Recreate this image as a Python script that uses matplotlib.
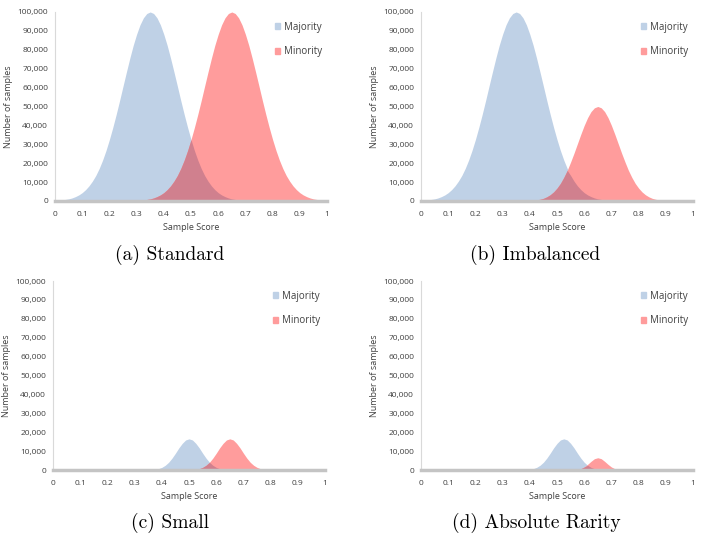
import matplotlib
matplotlib.use("Agg")
import matplotlib.pyplot as plt
import numpy as np
from matplotlib.patches import Patch
from matplotlib.ticker import FuncFormatter, MultipleLocator

# sample score grid for the two wide panels (0 .. 1, step 0.0125)
x_wide = np.linspace(0, 1, 81)
# grid for the two narrow panels (0.3 .. 0.8, step 0.0125)
x_narrow = np.linspace(0.3, 0.8, 41)

# (a) Standard
maj_standard = [200, 300, 500, 800, 1100, 1600, 2300, 3200, 4400, 6000,
                8000, 10500, 13500, 17200, 21600, 26700, 32500, 38900, 45800, 53100,
                60700, 68200, 75500, 82300, 88200, 93200, 96900, 99200, 100000, 99200,
                96900, 93200, 88200, 82300, 75500, 68200, 60700, 53100, 45800, 38900,
                32500, 26700, 21600, 17200, 13500, 10500, 8000, 6000, 4400, 3200,
                2300, 1600, 1100, 800, 500, 300, 200, 100, 100, 0,
                0, 0, 0, 0, 0, 0, 0, 0, 0, 0,
                0, 0, 0, 0, 0, 0, 0, 0, 0, 0, 0]
min_standard = [0, 0, 0, 0, 0, 0, 0, 0, 0, 0,
                0, 0, 0, 0, 0, 0, 0, 0, 0, 0,
                0, 0, 100, 100, 200, 300, 500, 800, 1100, 1600,
                2300, 3200, 4400, 6000, 8000, 10500, 13500, 17200, 21600, 26700,
                32500, 38900, 45800, 53100, 60700, 68200, 75500, 82300, 88200, 93200,
                96900, 99200, 100000, 99200, 96900, 93200, 88200, 82300, 75500, 68200,
                60700, 53100, 45800, 38900, 32500, 26700, 21600, 17200, 13500, 10500,
                8000, 6000, 4400, 3200, 2300, 1600, 1100, 800, 500, 300, 200]

# (b) Imbalanced
maj_imbalanced = [200, 300, 500, 800, 1100, 1600, 2300, 3200, 4400, 6000,
                  8000, 10500, 13500, 17200, 21600, 26700, 32500, 38900, 45800, 53100,
                  60700, 68200, 75500, 82300, 88200, 93200, 96900, 99200, 100000, 99200,
                  96900, 93200, 88200, 82300, 75500, 68200, 60700, 53100, 45800, 38900,
                  32500, 26700, 21600, 17200, 13500, 10500, 8000, 6000, 4400, 3200,
                  2300, 1600, 1100, 800, 500, 300, 200, 100, 100, 0,
                  0, 0, 0, 0, 0, 0, 0, 0, 0, 0,
                  0, 0, 0, 0, 0, 0, 0, 0, 0, 0, 0]
min_imbalanced = [0, 0, 0, 0, 0, 0, 0, 0, 0, 0,
                  0, 0, 0, 0, 0, 0, 0, 0, 0, 0,
                  0, 0, 0, 0, 0, 0, 0, 0, 0, 0,
                  100, 100, 200, 300, 600, 900, 1400, 2200, 3300, 4800,
                  6800, 9300, 12500, 16200, 20600, 25300, 30300, 35300, 40000, 44100,
                  47300, 49300, 50000, 49300, 47300, 44100, 40000, 35300, 30300, 25300,
                  20600, 16200, 12500, 9300, 6800, 4800, 3300, 2200, 1400, 900,
                  600, 300, 200, 100, 100, 0, 0, 0, 0, 0, 0]

# (c) Small
maj_small = [0, 0, 0, 0, 60, 150, 350, 700, 1400, 2500,
             4100, 6300, 8900, 11700, 14100, 15900, 16500, 15900, 14100, 11700,
             8900, 6300, 4100, 2500, 1400, 700, 350, 150, 60, 0,
             0, 0, 0, 0, 0, 0, 0, 0, 0, 0, 0]
min_small = [0, 0, 0, 0, 0, 0, 0, 0, 0, 0,
             0, 0, 0, 0, 0, 0, 60, 150, 350, 700,
             1400, 2500, 4100, 6300, 8900, 11700, 14100, 15900, 16500, 15900,
             14100, 11700, 8900, 6300, 4100, 2500, 1400, 700, 350, 150, 60]

# (d) Absolute Rarity
maj_rarity = [0, 0, 0, 0, 0, 0, 60, 150, 350, 700,
              1400, 2500, 4100, 6300, 8900, 11700, 14100, 15900, 16500, 15900,
              14100, 11700, 8900, 6300, 4100, 2500, 1400, 700, 350, 150,
              60, 0, 0, 0, 0, 0, 0, 0, 0, 0, 0]
min_rarity = [0, 0, 0, 0, 0, 0, 0, 0, 0, 0,
              0, 0, 0, 0, 0, 0, 0, 0, 0, 0,
              0, 100, 300, 700, 1600, 3000, 4600, 6000, 6500, 6000,
              4600, 3000, 1600, 700, 300, 100, 0, 0, 0, 0, 0]

captions = ["(a) Standard", "(b) Imbalanced", "(c) Small", "(d) Absolute Rarity"]

BLUE = "#bfd1e6"
RED = "#ff9c9c"
OVERLAP = "#d0808e"

plt.rcParams["font.family"] = ["Open Sans", "DejaVu Sans"]

fig = plt.figure(figsize=(7.04, 5.42), dpi=100)

panels = [
    (x_wide, maj_standard, min_standard, [0.0781, 0.6292, 0.3864, 0.3487], (170, 255)),
    (x_wide, maj_imbalanced, min_imbalanced, [0.598, 0.6292, 0.3864, 0.3487], (535, 255)),
    (x_narrow, maj_small, min_small, [0.0753, 0.1328, 0.3864, 0.3487], (170, 523)),
    (x_narrow, maj_rarity, min_rarity, [0.598, 0.1328, 0.3864, 0.3487], (536, 523)),
]

for (xs, maj, mnr, rect, cap_xy), cap in zip(panels, captions):
    ax = fig.add_axes(rect)
    maj = np.array(maj)
    mnr = np.array(mnr)
    ax.fill_between(xs, 0, maj, color=BLUE, lw=0)
    ax.fill_between(xs, 0, mnr, color=RED, lw=0)
    ax.fill_between(xs, 0, np.minimum(maj, mnr), color=OVERLAP, lw=0)

    ax.set_xlim(0, 1)
    ax.set_ylim(0, 100000)
    ax.xaxis.set_major_locator(MultipleLocator(0.1))
    ax.yaxis.set_major_locator(MultipleLocator(10000))
    ax.xaxis.set_major_formatter(FuncFormatter(lambda v, p: "0" if abs(v) < 1e-9 else ("1" if abs(v - 1) < 1e-9 else f"{v:.1f}")))
    ax.yaxis.set_major_formatter(FuncFormatter(lambda v, p: f"{int(v):,}"))
    ax.tick_params(length=0, labelsize=6, colors="#404040", pad=5)
    ax.tick_params(axis="x", pad=7)

    for s in ["top", "right"]:
        ax.spines[s].set_visible(False)
    ax.spines["left"].set_color("#d9d9d9")
    ax.spines["left"].set_linewidth(0.8)
    ax.spines["bottom"].set_color("#c4c4c4")
    ax.spines["bottom"].set_linewidth(2.5)

    ax.set_xlabel("Sample Score", fontsize=6.5, color="#404040", labelpad=4)
    ax.set_ylabel("Number of samples", fontsize=6.5, color="#404040", labelpad=3)

    handles = [Patch(color=BLUE, label="Majority"), Patch(color=RED, label="Minority")]
    ax.legend(handles=handles, loc="upper left", bbox_to_anchor=(0.775, 0.995),
              frameon=False, fontsize=7, handlelength=0.6, handleheight=0.6,
              handletextpad=0.4, labelspacing=1.4, labelcolor="#404040")

    fig.text(cap_xy[0] / 704, 1 - cap_xy[1] / 542, cap, ha="center", va="center",
             fontsize=14, family="cmr10")

fig.savefig("out.png", dpi=100)
